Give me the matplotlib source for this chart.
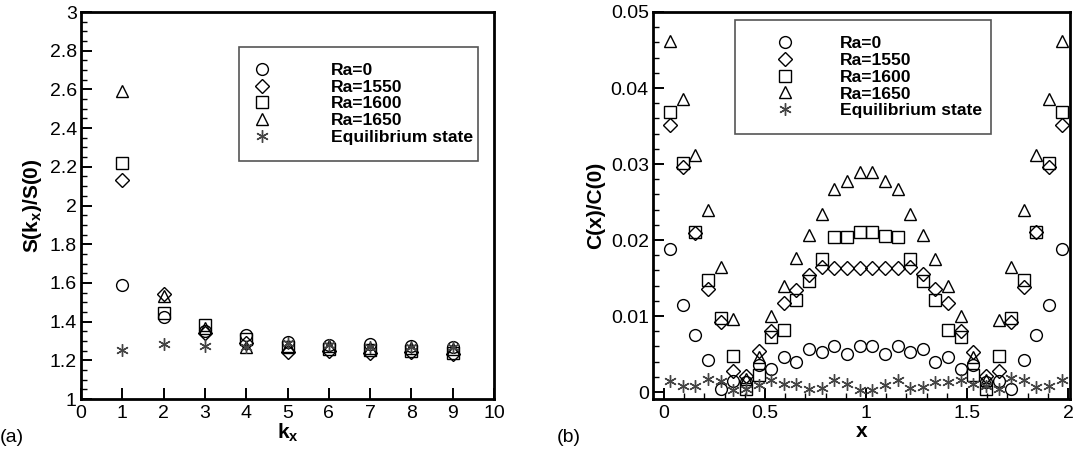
import numpy as np
import matplotlib
matplotlib.use('Agg')
import matplotlib.pyplot as plt
from matplotlib.ticker import MultipleLocator

plt.rcParams['font.family'] = ['Liberation Sans', 'DejaVu Sans']
plt.rcParams['mathtext.fontset'] = 'custom'
plt.rcParams['mathtext.bf'] = 'Liberation Sans:bold'
plt.rcParams['mathtext.rm'] = 'Liberation Sans'

# (a) structure factor vs kx
kx = [1, 2, 3, 4, 5, 6, 7, 8, 9]
s_ra0 = [1.59, 1.425, 1.35, 1.33, 1.295, 1.28, 1.285, 1.275, 1.27]
s_ra1550 = [2.13, 1.545, 1.34, 1.29, 1.245, 1.25, 1.24, 1.245, 1.235]
s_ra1600 = [2.22, 1.443, 1.38, 1.31, 1.27, 1.26, 1.255, 1.25, 1.24]
s_ra1650 = [2.59, 1.53, 1.365, 1.27, 1.275, 1.275, 1.265, 1.265, 1.26]
s_eq = [1.255, 1.285, 1.275, 1.27, 1.29, 1.28, 1.27, 1.27, 1.27]

# (b) correlation function vs x (32 grid points, dx = 1/16)
xs = [0.03125, 0.09375, 0.15625, 0.21875, 0.28125, 0.34375, 0.40625, 0.46875,
      0.53125, 0.59375, 0.65625, 0.71875, 0.78125, 0.84375, 0.90625, 0.96875,
      1.03125, 1.09375, 1.15625, 1.21875, 1.28125, 1.34375, 1.40625, 1.46875,
      1.53125, 1.59375, 1.65625, 1.71875, 1.78125, 1.84375, 1.90625, 1.96875]
c_ra0 = [0.0188, 0.0115, 0.0075, 0.0042, 0.0004, 0.0015, 0.0013, 0.0035,
         0.0030, 0.0046, 0.0039, 0.0056, 0.0052, 0.0060, 0.0050, 0.0060,
         0.0060, 0.0050, 0.0060, 0.0052, 0.0057, 0.0039, 0.0046, 0.0030,
         0.0035, 0.0013, 0.0015, 0.0004, 0.0042, 0.0075, 0.0115, 0.0188]
c_ra1550 = [0.0351, 0.0296, 0.0209, 0.0136, 0.0092, 0.0028, 0.0021, 0.0054,
            0.0080, 0.0117, 0.0134, 0.0154, 0.0165, 0.0163, 0.0163, 0.0163,
            0.0163, 0.0163, 0.0163, 0.0165, 0.0155, 0.0135, 0.0117, 0.0080,
            0.0053, 0.0021, 0.0028, 0.0092, 0.0138, 0.0210, 0.0296, 0.0351]
c_ra1600 = [0.0369, 0.0301, 0.0211, 0.0148, 0.0097, 0.0048, 0.0004, 0.0022,
            0.0072, 0.0082, 0.0121, 0.0146, 0.0175, 0.0204, 0.0204, 0.0211,
            0.0211, 0.0205, 0.0204, 0.0175, 0.0146, 0.0121, 0.0082, 0.0072,
            0.0022, 0.0004, 0.0048, 0.0097, 0.0148, 0.0211, 0.0301, 0.0369]
c_ra1650 = [0.0462, 0.0386, 0.0312, 0.0239, 0.0165, 0.0096, 0.0017, 0.0046,
            0.0100, 0.0139, 0.0176, 0.0206, 0.0234, 0.0267, 0.0277, 0.0290,
            0.0290, 0.0277, 0.0267, 0.0234, 0.0206, 0.0175, 0.0139, 0.0100,
            0.0046, 0.0016, 0.0095, 0.0165, 0.0239, 0.0312, 0.0385, 0.0462]
c_eq = [0.0014, 0.0008, 0.0008, 0.0017, 0.0014, 0.0003, 0.0004, 0.0009,
        0.0016, 0.0011, 0.0011, 0.0004, 0.0005, 0.0016, 0.0010, 0.0003,
        0.0003, 0.0009, 0.0016, 0.0005, 0.0006, 0.0013, 0.0013, 0.0016,
        0.0011, 0.0008, 0.0004, 0.0018, 0.0016, 0.0007, 0.0008, 0.0016]

labels = ['Ra=0', 'Ra=1550', 'Ra=1600', 'Ra=1650', 'Equilibrium state']
markers = ['o', 'D', 's', '^', (6, 2, 0)]
msizes = [8.5, 7, 8, 9, 9]
colors = ['black', 'black', 'black', 'black', '#444444']

fig = plt.figure(figsize=(10.73, 4.57), dpi=100)
W, H = 1073, 457
ax1 = fig.add_axes([81 / W, (H - 399) / H, 413 / W, 387 / H])
ax2 = fig.add_axes([653 / W, (H - 399) / H, 417 / W, 387 / H])


def scatter(ax, x, y, i):
    ax.plot(x, y, linestyle='none', marker=markers[i], markersize=msizes[i],
            markerfacecolor='none', markeredgecolor=colors[i],
            markeredgewidth=1.0, label=labels[i], clip_on=False)


for i, ys in enumerate([s_ra0, s_ra1550, s_ra1600, s_ra1650, s_eq]):
    scatter(ax1, kx, ys, i)
for i, ys in enumerate([c_ra0, c_ra1550, c_ra1600, c_ra1650, c_eq]):
    scatter(ax2, xs, ys, i)

ax1.set_xlim(0, 10)
ax1.set_ylim(1, 3)
ax1.xaxis.set_major_locator(MultipleLocator(1))
ax1.yaxis.set_minor_locator(MultipleLocator(0.05))
ax1.set_yticks(np.arange(1, 3.01, 0.2))
ax1.set_yticklabels(['1', '1.2', '1.4', '1.6', '1.8', '2', '2.2', '2.4', '2.6', '2.8', '3'])

ax2.set_xlim(-0.054, 2.01)
ax2.set_ylim(-0.00092, 0.05)
ax2.xaxis.set_minor_locator(MultipleLocator(0.1))
ax2.yaxis.set_minor_locator(MultipleLocator(0.002))
ax2.set_xticks([0, 0.5, 1, 1.5, 2])
ax2.set_xticklabels(['0', '0.5', '1', '1.5', '2'])
ax2.set_yticks([0, 0.01, 0.02, 0.03, 0.04, 0.05])
ax2.set_yticklabels(['0', '0.01', '0.02', '0.03', '0.04', '0.05'])

for ax in (ax1, ax2):
    for sp in ax.spines.values():
        sp.set_linewidth(2.0)
    ax.tick_params(which='both', direction='in', top=False, right=False,
                   labelsize=14)
    ax.tick_params(axis='y', pad=3)
    ax.tick_params(axis='x', pad=4)
    ax.tick_params(which='major', length=8, width=1.4)
    ax.tick_params(which='minor', length=4, width=1.0)

ax1.set_xlabel(r'$\mathbf{k_x}$', fontsize=15, labelpad=0)
ax1.set_ylabel(r'$\mathbf{S(k_x)/S(0)}$', fontsize=15, labelpad=4)
ax2.set_xlabel('x', fontsize=15, fontweight='bold', labelpad=0)
ax2.set_ylabel('C(x)/C(0)', fontsize=15, fontweight='bold', labelpad=4)

leg_kw = dict(frameon=True, fancybox=False, framealpha=1, edgecolor='#555555',
              prop={'weight': 'bold', 'size': 12.6},
              labelspacing=0.09, borderpad=0.9, borderaxespad=0)
leg1 = ax1.legend(loc='upper left', bbox_to_anchor=(0.383, 0.90, 0.578, 0.01),
                  mode='expand', handlelength=0.83, handletextpad=3.5, **leg_kw)
leg2 = ax2.legend(loc='upper left', bbox_to_anchor=(0.196, 0.969, 0.614, 0.01),
                  mode='expand', handlelength=3.9, handletextpad=1.2, **leg_kw)
for leg in (leg1, leg2):
    leg.get_frame().set_linewidth(1.2)

fig.text(0 / W, 1 - 437 / H, '(a)', fontsize=14, va='center', ha='left')
fig.text(557 / W, 1 - 437 / H, '(b)', fontsize=14, va='center', ha='left')

fig.savefig('out.png', dpi=100)
